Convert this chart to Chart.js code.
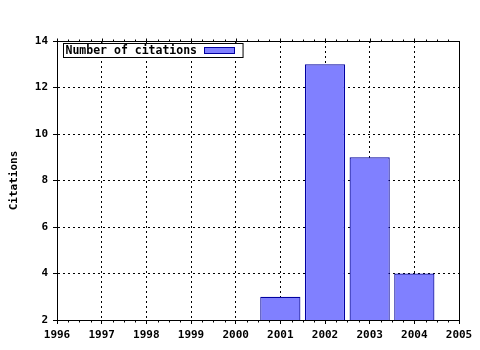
<!DOCTYPE html>
<html><head><meta charset="utf-8">
<script src="https://cdn.jsdelivr.net/npm/chart.js@4/dist/chart.umd.min.js"></script>
<style>html,body{margin:0;padding:0;background:#fff}#wrap{width:480px;height:350px}</style>
</head><body><div id="wrap"><canvas id="c" width="480" height="350"></canvas></div>
<script>
const years = ['1996','1997','1998','1999','2000','2001','2002','2003','2004','2005'];
const citations = [null,null,null,null,null,3,13,9,4,null];
const yTicks = [2,4,6,8,10,12,14];
const seriesLabel = 'Number of citations';
const axisTitle = 'Citations';

const FONT = 'DejaVu Sans Mono';
const barFill = '#8080ff';
const barEdge = '#0000a0';

const framePlugin = {
  id: 'frame',
  afterDraw(chart) {
    const ctx = chart.ctx, a = chart.chartArea, xs = chart.scales.x;
    const L = Math.round(a.left) + 0.5, R = Math.round(a.right) + 0.5;
    const T = Math.round(a.top) + 0.5, B = Math.round(a.bottom) + 0.5;
    ctx.save();
    ctx.strokeStyle = '#000'; ctx.lineWidth = 1; ctx.setLineDash([]);
    ctx.beginPath();
    ctx.moveTo(L, T); ctx.lineTo(R, T); ctx.lineTo(R, B);
    ctx.stroke();
    // minor / major ticks on x (top & bottom)
    ctx.beginPath();
    for (let i = 0; i < years.length - 1; i++) {
      for (let k = 0; k < 4; k++) {
        const px = Math.round(xs.getPixelForValue(i + k / 4)) + 0.5;
        if (k === 0) {
          ctx.moveTo(px, T - 3); ctx.lineTo(px, T + 1);
        } else {
          ctx.moveTo(px, T - 2); ctx.lineTo(px, T);
          ctx.moveTo(px, B); ctx.lineTo(px, B + 2);
        }
      }
    }
    ctx.stroke();
    // legend
    const ds = chart.data.datasets[0];
    ctx.font = 'bold 11.5px "' + FONT + '"';
    const tw = ctx.measureText(ds.label).width;
    const bx = Math.round(a.left) + 6.5, by = Math.round(a.top) + 2.5;
    const bw = tw + 48, bh = 14;
    ctx.fillStyle = '#fff';
    ctx.fillRect(bx, by, bw, bh);
    ctx.strokeRect(bx, by, bw, bh);
    ctx.fillStyle = '#000';
    ctx.textBaseline = 'middle'; ctx.textAlign = 'left';
    ctx.fillText(ds.label, bx + 2, by + bh / 2 + 0.5);
    const sx = Math.round(bx + tw + 9) + 0.5, sy = by + 4;
    ctx.fillStyle = ds.backgroundColor;
    ctx.fillRect(sx, sy, 30, 6);
    ctx.strokeStyle = ds.borderColor;
    ctx.strokeRect(sx, sy, 30, 6);
    ctx.restore();
  }
};

new Chart(document.getElementById('c'), {
  type: 'bar',
  data: {
    labels: years,
    datasets: [{
      label: seriesLabel,
      data: citations,
      backgroundColor: barFill,
      borderColor: barEdge,
      borderWidth: 1.2,
      borderSkipped: 'start',
      categoryPercentage: 1,
      barPercentage: 0.9
    }]
  },
  options: {
    responsive: false,
    animation: false,
    devicePixelRatio: 1,
    layout: { padding: { top: 41, right: 21, left: 0, bottom: 0 } },
    plugins: { legend: { display: false }, tooltip: { enabled: false } },
    scales: {
      x: {
        offset: false,
        grid: { offset: false, color: '#000', lineWidth: 1, tickLength: 4, tickColor: '#000', tickBorderDash: [] },
        border: { display: true, color: '#000', width: 1, dash: [2, 3] },
        ticks: { color: '#000', font: { family: FONT, size: 11, weight: 'bold' }, padding: 5, maxRotation: 0, autoSkip: false },
        afterFit(s) { s.height = 30; }
      },
      y: {
        min: 2, max: 14,
        afterBuildTicks(s) { s.ticks = yTicks.map(v => ({ value: v })); },
        grid: { color: '#000', lineWidth: 1, tickLength: 4, tickColor: '#000', tickBorderDash: [] },
        border: { display: true, color: '#000', width: 1, dash: [2, 3] },
        ticks: { color: '#000', font: { family: FONT, size: 11, weight: 'bold' }, padding: 5 },
        title: { display: true, text: axisTitle, color: '#000', font: { family: FONT, size: 11, weight: 'bold' }, padding: { top: 8, bottom: 0 } },
        afterFit(s) { s.width = 57; }
      }
    }
  },
  plugins: [framePlugin]
});
</script>
</body></html>
